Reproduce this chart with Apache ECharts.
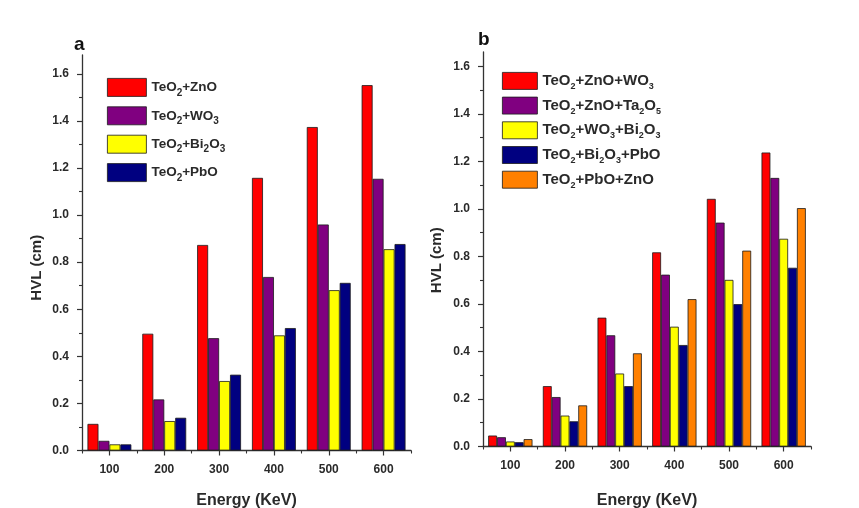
<!DOCTYPE html>
<html>
<head>
<meta charset="utf-8">
<script src="https://cdn.jsdelivr.net/npm/echarts@6/dist/echarts.min.js"></script>
<style>
  html, body { margin: 0; padding: 0; background: #ffffff; }
  #chart { width: 859px; height: 508px; }
</style>
</head>
<body>
<div id="chart"></div>
<script>
// Energy categories (KeV) shared by both panels
const energies = ['100', '200', '300', '400', '500', '600'];

// Panel a: binary tellurite glasses, HVL in cm
const teZnO   = [0.113, 0.496, 0.873, 1.158, 1.374, 1.552];
const teWO3   = [0.041, 0.217, 0.477, 0.737, 0.960, 1.154];
const teBi2O3 = [0.026, 0.125, 0.295, 0.489, 0.681, 0.855];
const tePbO   = [0.026, 0.139, 0.322, 0.520, 0.712, 0.877];

// Panel b: ternary tellurite glasses, HVL in cm
const teZnOWO3    = [0.046, 0.254, 0.542, 0.817, 1.042, 1.237];
const teZnOTa2O5  = [0.039, 0.208, 0.468, 0.723, 0.942, 1.130];
const teWO3Bi2O3  = [0.021, 0.130, 0.307, 0.504, 0.701, 0.874];
const teBi2O3PbO  = [0.018, 0.106, 0.254, 0.427, 0.599, 0.752];
const tePbOZnO    = [0.031, 0.173, 0.392, 0.620, 0.824, 1.003];

// Tick values on the HVL axes
const yMajorTicks = [0, 0.2, 0.4, 0.6, 0.8, 1.0, 1.2, 1.4, 1.6];
const yMinorTicks = [0.1, 0.3, 0.5, 0.7, 0.9, 1.1, 1.3, 1.5];

const RED = '#ff0000', PURPLE = '#800080', YELLOW = '#ffff00', NAVY = '#000080', ORANGE = '#ff8000';
const FONT = '"Liberation Sans", Arial, sans-serif';
const INK = '#2a2a2a';

const chart = echarts.init(document.getElementById('chart'), null, { renderer: 'canvas' });

// Chemical formulas: digits become subscripts
function formula(name) {
  return '{b|' + name.replace(/(\d)/g, '}{s|$1}{b|') + '}';
}
function legendRich(size, subSize, drop) {
  return {
    b: { fontSize: size, fontWeight: 'bold', fontFamily: FONT, color: INK },
    s: { fontSize: subSize, fontWeight: 'bold', fontFamily: FONT, color: INK, padding: [drop, 0, 0, 0] }
  };
}

function bar(name, data, color, axisIdx, gap) {
  return {
    name: name, type: 'bar', data: data,
    xAxisIndex: axisIdx, yAxisIndex: axisIdx,
    barGap: '0%', barCategoryGap: gap,
    itemStyle: { color: color, borderColor: '#1a1a1a', borderWidth: 0.8 },
    emphasis: { disabled: true }
  };
}

function mainY(grid, max, nameGap, shift) {
  return {
    type: 'value', gridIndex: grid, min: 0, max: max, interval: 0.2,
    name: 'HVL (cm)', nameLocation: 'middle', nameGap: nameGap,
    nameTextStyle: { fontSize: 15, fontWeight: 'bold', fontFamily: FONT, color: INK, padding: [0, shift, 0, 0] },
    axisLine: { show: true, lineStyle: { color: '#333', width: 1.3 } },
    axisTick: { show: true, length: 5, customValues: yMajorTicks, lineStyle: { color: '#333', width: 1.2 } },
    axisLabel: {
      customValues: yMajorTicks, margin: 13,
      fontSize: 12, fontWeight: 'bold', fontFamily: FONT, color: INK,
      formatter: v => v.toFixed(1)
    },
    splitLine: { show: false }
  };
}
function minorY(grid, max) {
  return {
    type: 'value', gridIndex: grid, min: 0, max: max, position: 'left',
    axisLine: { show: false },
    axisTick: { show: true, length: 3, customValues: yMinorTicks, lineStyle: { color: '#333', width: 1.1 } },
    axisLabel: { show: false }, splitLine: { show: false }
  };
}
function mainX(grid, nameGap) {
  return {
    type: 'category', gridIndex: grid, data: energies, position: 'bottom',
    name: 'Energy (KeV)', nameLocation: 'middle', nameGap: nameGap,
    nameTextStyle: { fontSize: 16, fontWeight: 'bold', fontFamily: FONT, color: INK },
    axisLine: { show: true, lineStyle: { color: '#333', width: 1.3 } },
    axisTick: { show: true, alignWithLabel: true, length: 5, lineStyle: { color: '#333', width: 1.2 } },
    axisLabel: { margin: 13, fontSize: 12, fontWeight: 'bold', fontFamily: FONT, color: INK },
    splitLine: { show: false }
  };
}
function boundaryX(grid) {
  return {
    type: 'category', gridIndex: grid, data: energies, position: 'bottom',
    axisLine: { show: false },
    axisTick: { show: true, alignWithLabel: false, length: 3, lineStyle: { color: '#333', width: 1.1 } },
    axisLabel: { show: false }, splitLine: { show: false }
  };
}

const option = {
  backgroundColor: '#ffffff',
  animation: false,
  grid: [
    { left: 82, top: 55, width: 329, height: 395.5, outerBoundsMode: 'none' },
    { left: 483, top: 52, width: 328, height: 394.5, outerBoundsMode: 'none' }
  ],
  xAxis: [mainX(0, 42), boundaryX(0), mainX(1, 46), boundaryX(1)],
  yAxis: [mainY(0, 1.68, 38, 30), minorY(0, 1.68), mainY(1, 1.66, 39, 22), minorY(1, 1.66)],
  legend: [
    {
      orient: 'vertical', left: 107, top: 78, padding: 0, itemWidth: 39, itemHeight: 18, itemGap: 8.5,
      icon: 'rect', itemStyle: { borderColor: '#1a1a1a', borderWidth: 0.8 },
      data: ['TeO2+ZnO', 'TeO2+WO3', 'TeO2+Bi2O3', 'TeO2+PbO'],
      formatter: formula, textStyle: { rich: legendRich(13.5, 10, 11) }
    },
    {
      orient: 'vertical', left: 502, top: 72, padding: 0, itemWidth: 35, itemHeight: 17, itemGap: 5.8,
      icon: 'rect', itemStyle: { borderColor: '#1a1a1a', borderWidth: 0.8 },
      data: ['TeO2+ZnO+WO3', 'TeO2+ZnO+Ta2O5', 'TeO2+WO3+Bi2O3', 'TeO2+Bi2O3+PbO', 'TeO2+PbO+ZnO'],
      formatter: formula, textStyle: { rich: legendRich(15, 9, 11) }
    }
  ],
  graphic: [
    { type: 'text', left: 74, top: 35, style: { text: 'a', fontSize: 19, fontWeight: 'bold', fontFamily: FONT, fill: '#111' } },
    { type: 'text', left: 478, top: 30, style: { text: 'b', fontSize: 19, fontWeight: 'bold', fontFamily: FONT, fill: '#111' } }
  ],
  series: [
    bar('TeO2+ZnO', teZnO, RED, 0, '20%'),
    bar('TeO2+WO3', teWO3, PURPLE, 0, '20%'),
    bar('TeO2+Bi2O3', teBi2O3, YELLOW, 0, '20%'),
    bar('TeO2+PbO', tePbO, NAVY, 0, '20%'),
    bar('TeO2+ZnO+WO3', teZnOWO3, RED, 2, '19%'),
    bar('TeO2+ZnO+Ta2O5', teZnOTa2O5, PURPLE, 2, '19%'),
    bar('TeO2+WO3+Bi2O3', teWO3Bi2O3, YELLOW, 2, '19%'),
    bar('TeO2+Bi2O3+PbO', teBi2O3PbO, NAVY, 2, '19%'),
    bar('TeO2+PbO+ZnO', tePbOZnO, ORANGE, 2, '19%')
  ]
};

chart.setOption(option);
</script>
</body>
</html>
